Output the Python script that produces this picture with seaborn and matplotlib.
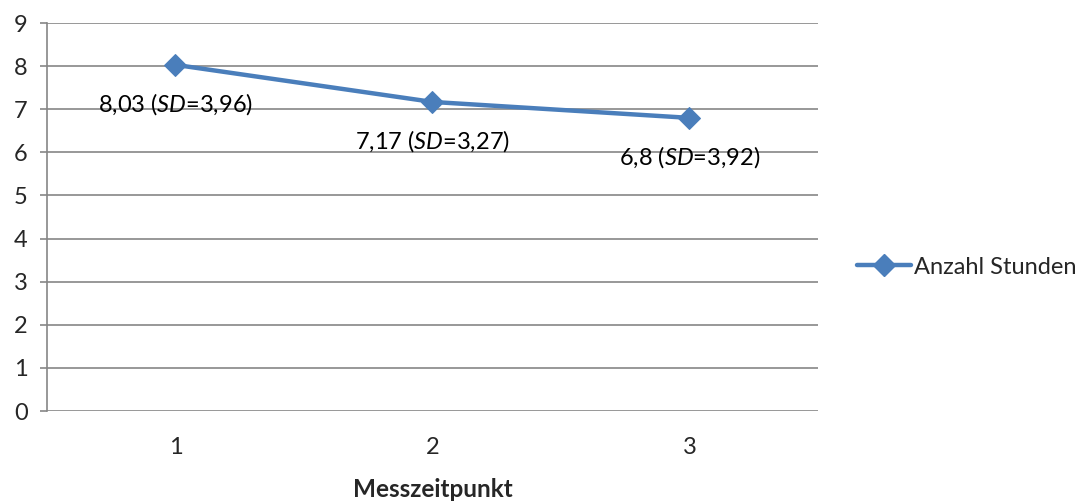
import matplotlib
matplotlib.use("Agg")
import matplotlib.pyplot as plt
import seaborn as sns
import pandas as pd
import numpy as np

# Mean hours per measurement point, with standard deviations
zeitpunkte = ["1", "2", "3"]
mittelwerte = [8.03, 7.17, 6.8]
standardabw = [3.96, 3.27, 3.92]
serie = "Anzahl Stunden"

sns.set_theme(style="white")
plt.rcParams["font.family"] = ["Lato", "DejaVu Sans"]
plt.rcParams["mathtext.fontset"] = "custom"
plt.rcParams["mathtext.rm"] = "Lato"
plt.rcParams["mathtext.it"] = "Lato:italic"

df = pd.DataFrame({"pos": np.arange(len(zeitpunkte)), "wert": mittelwerte})

fig = plt.figure(figsize=(10.88, 5.01), dpi=100)
ax = fig.add_axes([0.0432, 0.1796, 0.7086, 0.7744])

blau = "#4A7EBB"
grau = "#868686"

for y in range(0, 10):
    ax.axhline(y, color=grau, lw=1.2, zorder=1)

sns.lineplot(data=df, x="pos", y="wert", ax=ax, color=blau, lw=3.2,
             marker="D", markersize=11, markeredgecolor=blau,
             label=serie, zorder=3, legend=False)

def fmt(v):
    return f"{v:g}".replace(".", ",")

for i, (m, s) in enumerate(zip(mittelwerte, standardabw)):
    ax.annotate(f"{fmt(m)} ($\\mathit{{SD}}$={fmt(s)})", xy=(i, m),
                xytext=(0, -28), textcoords="offset points",
                ha="center", va="center", fontsize=17, color="black", zorder=4)

ax.set_xlim(-0.5, len(zeitpunkte) - 0.5)
ax.set_ylim(0, 9)
ax.set_yticks(range(0, 10))
ax.set_yticklabels([str(v) for v in range(0, 10)], fontsize=17)
ax.set_xticks(range(len(zeitpunkte)))
ax.set_xticklabels(zeitpunkte, fontsize=17)
ax.set_xticks(np.arange(-0.5, len(zeitpunkte)), minor=True)
ax.tick_params(axis="x", which="major", length=0, pad=19)
ax.tick_params(axis="x", which="minor", length=5, width=1.2, color=grau, direction="out")
ax.tick_params(axis="y", length=5, width=1.2, color=grau, pad=9, left=True)

for side in ["top", "right"]:
    ax.spines[side].set_visible(False)
ax.spines["bottom"].set_visible(False)
ax.spines["left"].set_color(grau)
ax.spines["left"].set_linewidth(1.2)

ax.set_xlabel("Messzeitpunkt", fontsize=17.5, fontweight="bold", labelpad=14)
ax.set_ylabel("")

handles = [plt.Line2D([], [], color=blau, lw=3.2, marker="D", markersize=11,
                      markeredgecolor=blau)]
fig.legend(handles, [serie], loc="center left", bbox_to_anchor=(0.779, 0.467),
           frameon=False, fontsize=17, handlelength=2.3, handletextpad=0.1,
           borderaxespad=0)

fig.savefig("out.png", dpi=100)
